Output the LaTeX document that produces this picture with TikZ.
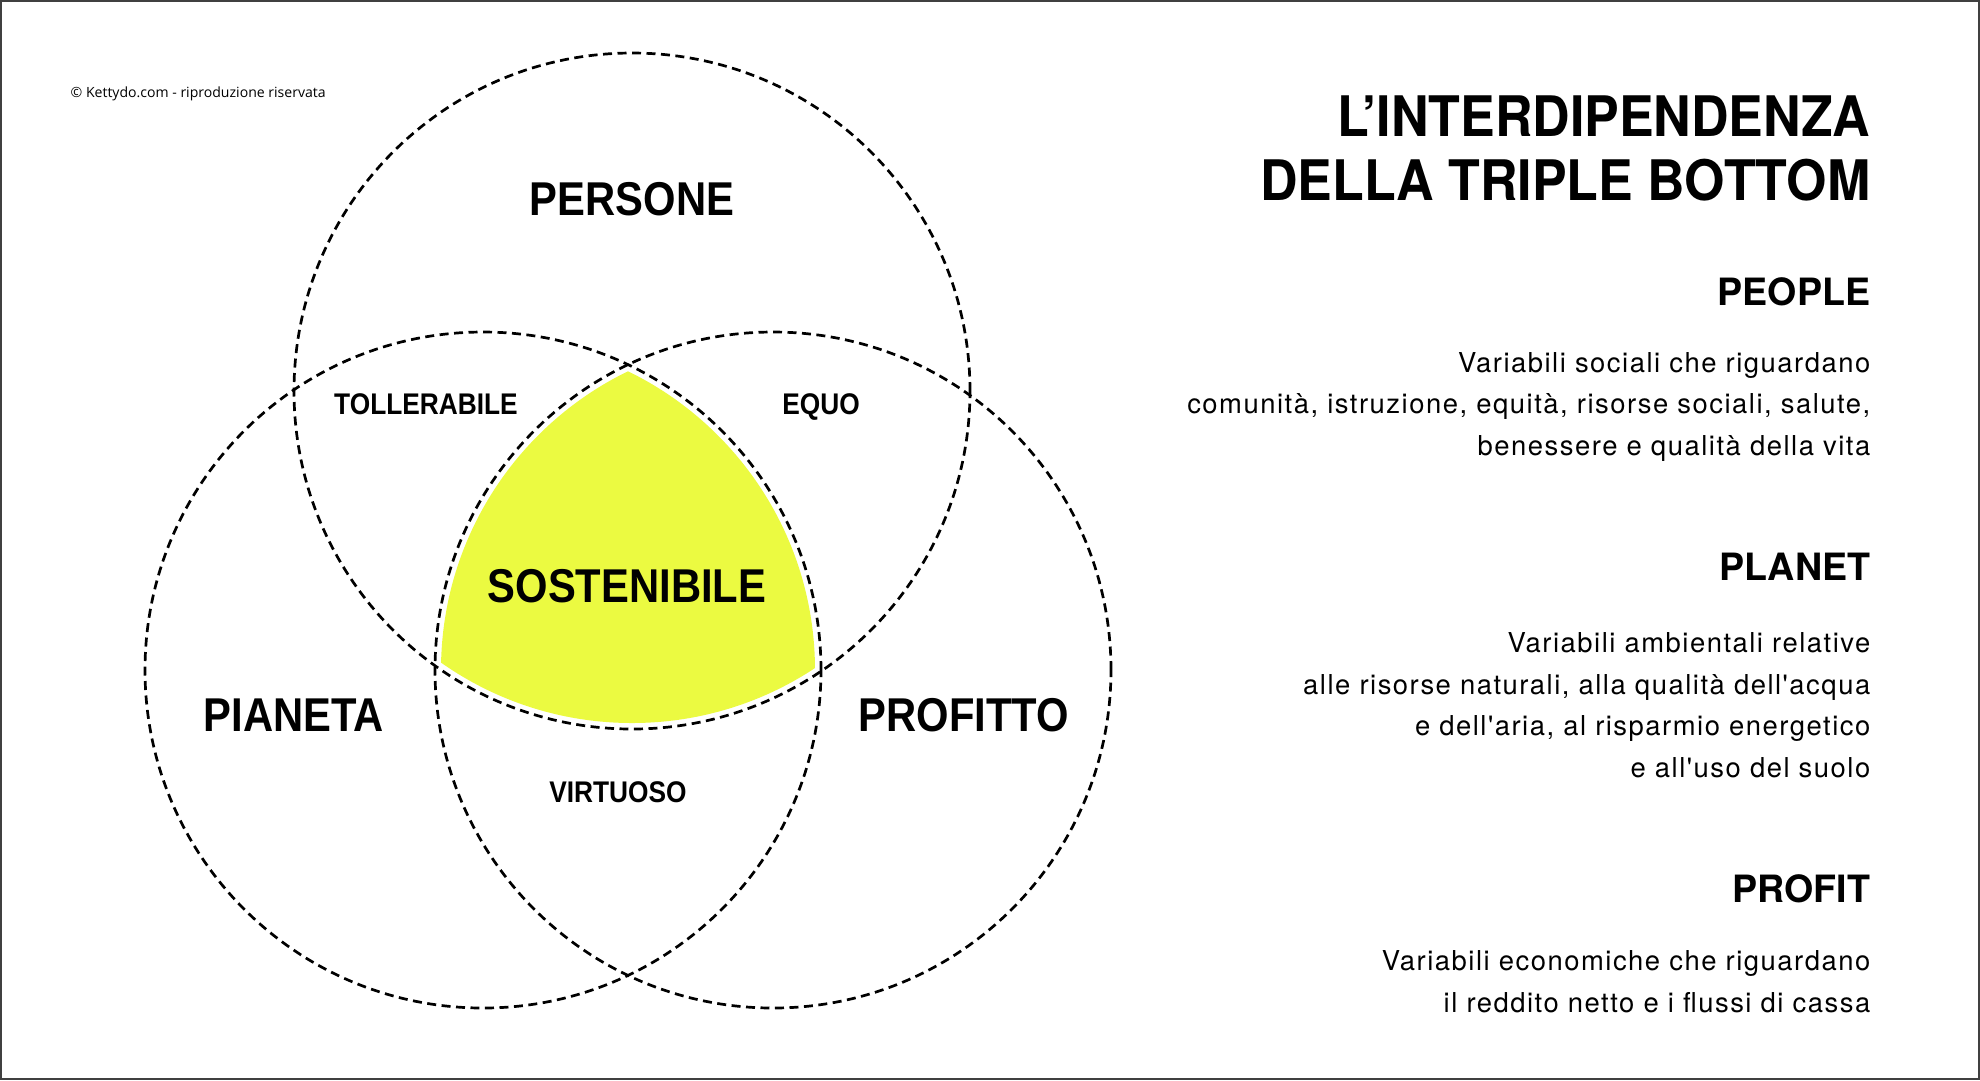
\documentclass[tikz,border=0pt]{standalone}
\usepackage{fontspec}
\setmainfont{TeX Gyre Heros}
\newfontfamily\headfont{TeX Gyre Heros}[FakeStretch=0.93]
\newfontfamily\vennfont{Liberation Sans}[FakeStretch=0.88]
\newfontfamily\bodyfont{TeX Gyre Heros}[LetterSpace=5.5]
\newfontfamily\notefont{Open Sans}
\usetikzlibrary{positioning}
\definecolor{sostyellow}{RGB}{235,250,65}

\begin{document}
\begin{tikzpicture}[x=0.1mm,y=-0.1mm,
  ring/.style={draw=black,line width=0.27mm,dash pattern=on 0.9mm off 0.55mm},
  bigname/.style={font=\vennfont\bfseries\fontsize{13.5pt}{16pt}\selectfont,inner sep=0pt,anchor=base},
  smallname/.style={font=\vennfont\bfseries\fontsize{8.5pt}{10pt}\selectfont,inner sep=0pt,anchor=base},
  titletext/.style={font=\headfont\bfseries\fontsize{15.9pt}{18.2pt}\selectfont,align=right,inner sep=0pt,anchor=base east},
  head/.style={font=\bfseries\fontsize{10.7pt}{12pt}\selectfont,inner sep=0pt,anchor=base east},
  body/.style={font=\bodyfont\fontsize{7.8pt}{11.8pt}\selectfont,align=right,inner sep=0pt,anchor=base east},
  note/.style={font=\notefont\fontsize{4pt}{5pt}\selectfont,inner sep=0pt,anchor=base west}]

\useasboundingbox (0,0) rectangle (1980,1080);
\draw[black!75,line width=0.2mm] (1,1) rectangle (1979,1079);

% centres of the three circles
\coordinate (cpers) at (632,391);
\coordinate (cpian) at (483,670);
\coordinate (cprof) at (773,670);

% common area
\begin{scope}
  \clip (cpers) circle[radius=33.2mm];
  \clip (cpian) circle[radius=33.2mm];
  \fill[sostyellow] (cprof) circle[radius=33.2mm];
\end{scope}

\draw[ring] (cpers) circle[radius=33.8mm];
\draw[ring] (cpian) circle[radius=33.8mm];
\draw[ring] (cprof) circle[radius=33.8mm];

\node[note] (copy) at (70,97) {© Kettydo.com - riproduzione riservata};

\node[bigname] (persone) at (632,215) {PERSONE};
\node[bigname] (pianeta) at (294,731) {PIANETA};
\node[bigname] (profitto) at (964,731) {PROFITTO};
\node[bigname] (sost) at (627,602) {SOSTENIBILE};
\node[smallname] (toll) at (426,414) {TOLLERABILE};
\node[smallname] (equo) at (821,414) {EQUO};
\node[smallname] (virt) at (618,802) {VIRTUOSO};

% right column (base = last line)
\node[titletext] (titolo) at (1871,200) {L’INTERDIPENDENZA\\DELLA TRIPLE BOTTOM};

\node[head] (people) at (1871,305) {PEOPLE};
\node[body] (peopletxt) at (1871,455) {Variabili sociali che riguardano\\
  comunità, istruzione, equità, risorse sociali, salute,\\
  benessere e qualità della vita};

\node[head] (planet) at (1871,580) {PLANET};
\node[body] (planettxt) at (1871,777) {Variabili ambientali relative\\
  alle risorse naturali, alla qualità dell'acqua\\
  e dell'aria, al risparmio energetico\\
  e all'uso del suolo};

\node[head] (profit) at (1871,902) {PROFIT};
\node[body] (profittxt) at (1871,1012) {Variabili economiche che riguardano\\
  il reddito netto e i flussi di cassa};
\end{tikzpicture}
\end{document}
